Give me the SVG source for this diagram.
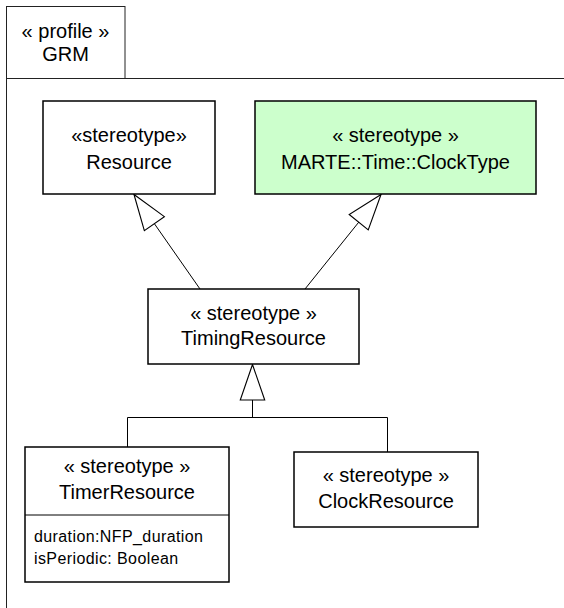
<svg xmlns="http://www.w3.org/2000/svg" width="564" height="608" viewBox="0 0 564 608">
<style>
.bg{fill:#ffffff}
.frame{fill:none;stroke:#222;stroke-width:1}
.box{fill:#ffffff;stroke:#000;stroke-width:1.5}
.green{fill:#ccffcc}
.t{font-family:"Liberation Sans",Arial,sans-serif;font-size:20px;fill:#000;text-anchor:middle}
.a{font-family:"Liberation Sans",Arial,sans-serif;font-size:16px;letter-spacing:0.4px;fill:#000}
.c{fill:none;stroke:#000;stroke-width:1}
</style>
<defs>
<marker id="gen" markerUnits="userSpaceOnUse" markerWidth="40" markerHeight="30" refX="0" refY="0" viewBox="-34 -13 36 26" orient="auto" overflow="visible">
<path d="M0,0 L-32,-11 L-32,11 Z" fill="#fff" stroke="#000" stroke-width="1"/>
</marker>
</defs>
<rect class="bg" x="0" y="0" width="564" height="608"/>
<g id="profile-GRM">
<rect class="frame" x="6.5" y="6.5" width="118.5" height="72"/>
<path class="frame" d="M6.5,78.5 H564 M6.5,78.5 V608"/>
<text class="t" x="65.5" y="38">« profile »</text>
<text class="t" x="65.5" y="61">GRM</text>
</g>
<g id="connectors">
<line class="c" x1="200" y1="289" x2="134" y2="194.5" marker-end="url(#gen)"/>
<line class="c" x1="305" y1="289" x2="381" y2="194.5" marker-end="url(#gen)"/>
<path class="c" d="M127.5,447 V417.5 H387.5 V452"/>
<line class="c" x1="252.5" y1="417.5" x2="252.5" y2="364.5" marker-end="url(#gen)"/>
</g>
<g id="Resource">
<rect class="box" x="43" y="101" width="172" height="93"/>
<text class="t" x="129" y="142">«stereotype»</text>
<text class="t" x="129" y="169">Resource</text>
</g>
<g id="ClockType">
<rect class="box green" x="255" y="101" width="281" height="93"/>
<text class="t" x="395.5" y="142">« stereotype »</text>
<text class="t" x="395.5" y="169">MARTE::Time::ClockType</text>
</g>
<g id="TimingResource">
<rect class="box" x="148" y="289" width="211" height="75"/>
<text class="t" x="253.5" y="320">« stereotype »</text>
<text class="t" x="253.5" y="345">TimingResource</text>
</g>
<g id="TimerResource">
<rect class="box" x="25" y="447" width="204" height="135"/>
<line class="c" x1="25" y1="515" x2="229" y2="515"/>
<text class="t" x="127" y="473">« stereotype »</text>
<text class="t" x="127" y="499">TimerResource</text>
<text class="a" x="34" y="542">duration:NFP_duration</text>
<text class="a" x="34" y="564">isPeriodic: Boolean</text>
</g>
<g id="ClockResource">
<rect class="box" x="294" y="452" width="184" height="75"/>
<text class="t" x="386" y="482">« stereotype »</text>
<text class="t" x="386" y="508">ClockResource</text>
</g>
</svg>
